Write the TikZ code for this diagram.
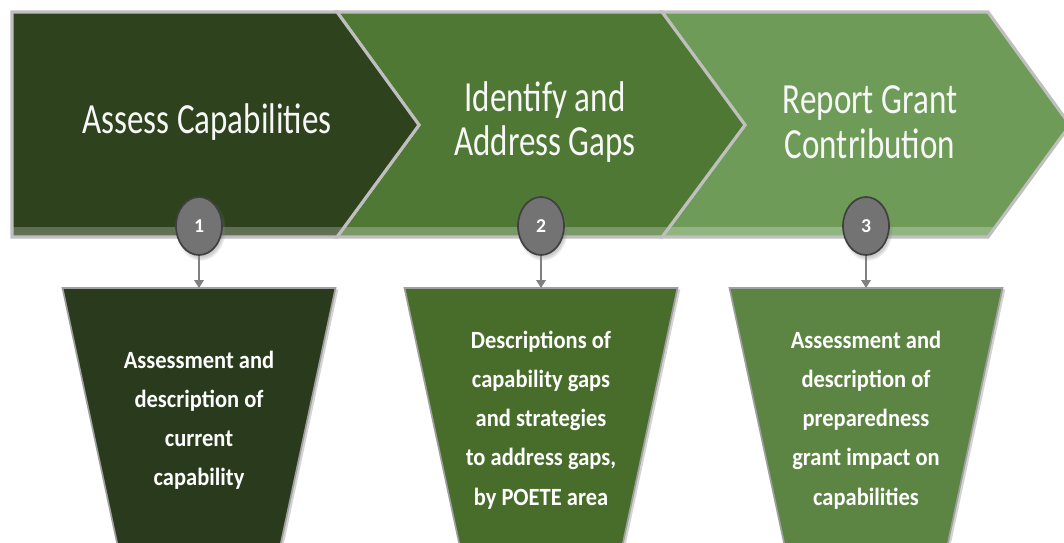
\documentclass[tikz,border=0pt]{standalone}
\usepackage{fontspec}
\setmainfont{Carlito}
\usetikzlibrary{arrows.meta, positioning, calc, shapes.geometric, shadows}
\definecolor{stageA}{RGB}{46,66,30}
\definecolor{stageB}{RGB}{78,120,52}
\definecolor{stageC}{RGB}{110,156,88}
\definecolor{boxA}{RGB}{41,59,28}
\definecolor{boxB}{RGB}{72,108,42}
\definecolor{boxC}{RGB}{92,132,66}
\tikzset{
  chevron/.style={
    fill=#1, draw=gray!50, line width=2.2pt, line join=miter,
    path picture={\shade[top color=#1, bottom color=#1!75!white]
      ([yshift=0.25cm]path picture bounding box.south west) rectangle (path picture bounding box.south east);}
  },
  funnel/.style={fill=#1, draw=gray!75, line width=1.2pt,
    drop shadow={shadow xshift=2pt, shadow yshift=-1pt, opacity=0.35}},
  title/.style={text=white!94!gray, align=center, font=\fontsize{23.5}{24.5}\selectfont, yscale=1.3},
  boxtext/.style={text=white, align=center, font=\bfseries\fontsize{16}{25.3}\selectfont, yscale=1.1},
  badge/.style={ellipse, minimum width=1.15cm, minimum height=1.45cm, inner sep=0pt,
    fill=black!55, draw=black!75, line width=1.2pt, text=white,
    font=\bfseries\fontsize{14}{14}\selectfont,
    circular drop shadow={shadow xshift=1pt, shadow yshift=-2pt, opacity=0.4}},
  link/.style={-{Triangle[width=0.24cm,length=0.2cm]}, draw=gray, line width=1.1pt}
}

\begin{document}
\begin{tikzpicture}[x=0.025cm, y=-0.025cm]
    \useasboundingbox (0,0) rectangle (1064,542);

    % Chevrons
    \path[chevron=stageC] (662,12) -- (988,12) -- (1070,125) -- (988,237) -- (662,237) -- (745,125) -- cycle;
    \path[chevron=stageB] (337,12) -- (662,12) -- (745,125) -- (662,237) -- (337,237) -- (419,125) -- cycle;
    \path[chevron=stageA] (12,12) -- (337,12) -- (419,125) -- (337,237) -- (12,237) -- cycle;

    \node[title] (h1) at (207,122) {Assess Capabilities};
    \node[title] (h2) at (545,122) {Identify and\\Address Gaps};
    \node[title] (h3) at (870,122) {Report Grant\\Contribution};

    % Funnels
    \path[funnel=boxA] (62.5,288) -- (335.5,288) -- (279,552) -- (119,552) -- cycle;
    \path[funnel=boxB] (404.5,288) -- (677.5,288) -- (621,552) -- (461,552) -- cycle;
    \path[funnel=boxC] (729.5,288) -- (1002.5,288) -- (946,552) -- (786,552) -- cycle;
    \coordinate (t1) at (199,288);
    \coordinate (t2) at (541,288);
    \coordinate (t3) at (866,288);

    \node[boxtext] (d1) at (199,420) {Assessment and\\description of\\current\\capability};
    \node[boxtext] (d2) at (541,420) {Descriptions of\\capability gaps\\and strategies\\to address gaps,\\by POETE area};
    \node[boxtext] (d3) at (866,420) {Assessment and\\description of\\preparedness\\grant impact on\\capabilities};

    % Steps
    \node[badge] (n1) at (199,226) {1};
    \node[badge] (n2) at (541,226) {2};
    \node[badge] (n3) at (866,226) {3};

    \draw[link] (n1) -- (t1);
    \draw[link] (n2) -- (t2);
    \draw[link] (n3) -- (t3);

\end{tikzpicture}
\end{document}
